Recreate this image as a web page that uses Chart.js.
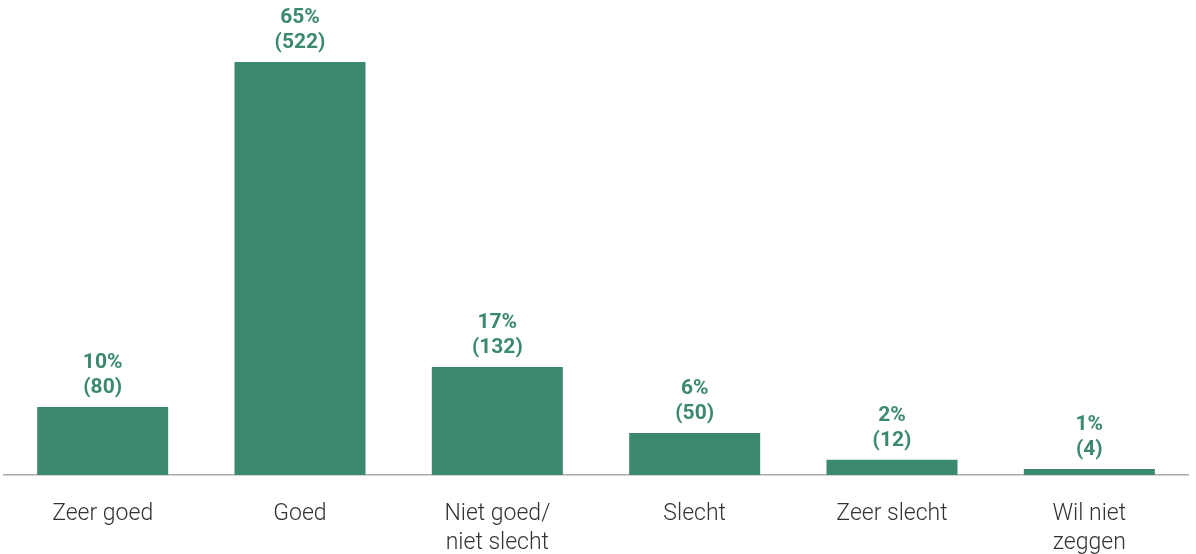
<!DOCTYPE html>
<html>
<head>
<meta charset="utf-8">
<script src="https://cdn.jsdelivr.net/npm/chart.js@4/dist/chart.umd.min.js"></script>
<style>
  html, body { margin: 0; padding: 0; background: #fff; }
  #wrap { width: 1196px; height: 554px; }
</style>
</head>
<body>
<div id="wrap"><canvas id="bars"></canvas></div>
<script>
// data
const categories = [['Zeer goed'], ['Goed'], ['Niet goed/', 'niet slecht'], ['Slecht'], ['Zeer slecht'], ['Wil niet', 'zeggen']];
const barValues = [10.7, 65, 17, 6.6, 2.4, 0.95];
const pctLabels = ['10%', '65%', '17%', '6%', '2%', '1%'];
const counts = [80, 522, 132, 50, 12, 4];

const green = '#3b8a6e';

// labels above the bars (no datalabels plugin here)
const topLabels = {
  id: 'topLabels',
  afterDatasetsDraw(chart) {
    const ctx = chart.ctx;
    const meta = chart.getDatasetMeta(0);
    ctx.save();
    ctx.fillStyle = green;
    ctx.font = 'bold 21px Roboto';
    ctx.textAlign = 'center';
    ctx.textBaseline = 'middle';
    meta.data.forEach((bar, i) => {
      ctx.fillText(pctLabels[i], bar.x, bar.y - 44);
      ctx.fillText('(' + counts[i] + ')', bar.x, bar.y - 19);
    });
    ctx.restore();
  }
};

var ctx = document.getElementById('bars').getContext('2d');
var myChart = new Chart(ctx, {
  type: 'bar',
  data: {
    labels: categories,
    datasets: [{
      data: barValues,
      backgroundColor: green,
      borderWidth: 0,
      categoryPercentage: 1,
      barPercentage: 0.664
    }]
  },
  options: {
    responsive: true,
    maintainAspectRatio: false,
    animation: false,
    layout: { padding: { left: 4, right: 8, top: 0, bottom: 0 } },
    plugins: { legend: { display: false }, tooltip: { enabled: false } },
    scales: {
      x: {
        afterFit(scale) { scale.height = 79; },
        grid: { display: false, drawTicks: false },
        border: { display: true, color: '#aaaaaa', width: 1.5 },
        ticks: {
          color: '#333',
          padding: 25,
          maxRotation: 0,
          font: { family: 'Roboto', size: 23, weight: 300, lineHeight: 1.26 }
        }
      },
      y: {
        display: false,
        min: 0,
        max: 74.75
      }
    }
  },
  plugins: [topLabels]
});
</script>
</body>
</html>
